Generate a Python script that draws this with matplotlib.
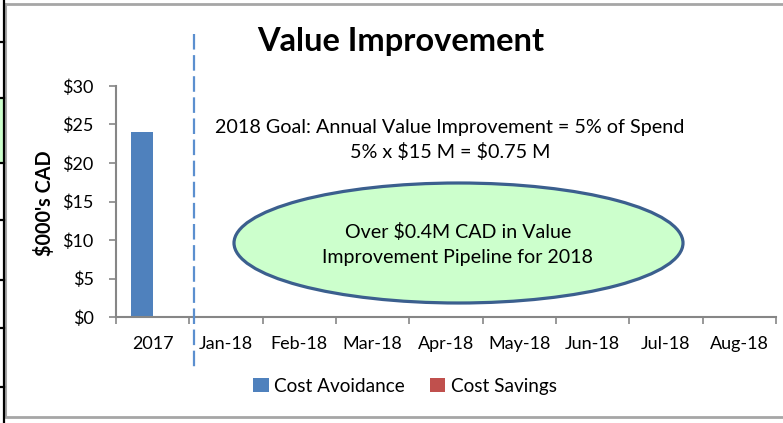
import matplotlib
matplotlib.use("Agg")
import matplotlib.pyplot as plt
from matplotlib.patches import Ellipse, Rectangle
from matplotlib.lines import Line2D
import numpy as np

categories = ['2017', 'Jan-18', 'Feb-18', 'Mar-18', 'Apr-18', 'May-18', 'Jun-18', 'Jul-18', 'Aug-18']
cost_avoidance = [24, 0, 0, 0, 0, 0, 0, 0, 0]
cost_savings = [0, 0, 0, 0, 0, 0, 0, 0, 0]
y_ticks = [0, 5, 10, 15, 20, 25, 30]
y_tick_labels = [r'\$0', r'\$5', r'\$10', r'\$15', r'\$20', r'\$25', r'\$30']

plt.rcParams['font.family'] = ['Lato', 'DejaVu Sans']

W, H = 783, 423
fig = plt.figure(figsize=(W / 100, H / 100), dpi=100)

def fx(px):
    return px / W

def fy(py):
    return 1 - py / H

ax = fig.add_axes([fx(116), fy(317), fx(776) - fx(116), fy(86) - fy(317)])

x = np.arange(len(categories))
bw = 0.3
ax.bar(x - bw / 2, cost_avoidance, bw, color='#4F81BD', label='Cost Avoidance')
ax.bar(x + bw / 2, cost_savings, bw, color='#C0504D', label='Cost Savings')

ax.set_xlim(-0.5, len(categories) - 0.5)
ax.set_ylim(0, 30)
ax.set_yticks(y_ticks)
ax.set_yticklabels(y_tick_labels)
ax.set_xticks(x)
ax.set_xticklabels(categories)
ax.set_xticks(np.arange(len(categories) + 1) - 0.5, minor=True)

axis_col = '#868686'
for s in ['top', 'right']:
    ax.spines[s].set_visible(False)
for s in ['left', 'bottom']:
    ax.spines[s].set_color(axis_col)
    ax.spines[s].set_linewidth(1.5)

ax.tick_params(axis='x', which='major', length=0, pad=14, labelsize=13, colors='black')
ax.tick_params(axis='x', which='minor', length=5, width=1.2, color=axis_col, direction='out')
ax.tick_params(axis='y', which='major', length=5, width=1.2, color=axis_col, pad=11,
               labelsize=13, labelcolor='black', direction='out')

# title and axis label
fig.text(fx(401), fy(42), 'Value Improvement', ha='center', va='center',
         fontsize=23.5, fontweight='bold')
fig.text(fx(45), fy(203), r"\$000's CAD", ha='center', va='center', rotation=90,
         fontsize=14.3, fontweight='bold')

# goal annotation
fig.text(fx(450), fy(127), '2018 Goal: Annual Value Improvement = 5% of Spend',
         ha='center', va='center', fontsize=14.2)
fig.text(fx(450), fy(152), r'5% x \$15 M = \$0.75 M', ha='center', va='center', fontsize=14.2)

# ellipse callout
ell = Ellipse((fx(458.5), fy(243)), fx(449), 120 / H, transform=fig.transFigure,
              facecolor='#CCFFCC', edgecolor='#3B5F8E', linewidth=2.3, zorder=5)
fig.add_artist(ell)
fig.text(fx(458), fy(232), r'Over \$0.4M CAD in Value', ha='center', va='center',
         fontsize=14.1, zorder=6)
fig.text(fx(458), fy(257), 'Improvement Pipeline for 2018', ha='center', va='center',
         fontsize=14.1, zorder=6)

# dashed separator
fig.add_artist(Line2D([fx(193.5), fx(193.5)], [fy(34), fy(367)], transform=fig.transFigure,
                      color='#5B8FCF', linewidth=1.6, dashes=(7, 2.5)))

# legend
handles, labels = ax.get_legend_handles_labels()
leg = fig.legend(handles, labels, loc='center', bbox_to_anchor=(fx(405), fy(386)),
                 ncol=2, frameon=False, fontsize=13.7, handlelength=0.8, handleheight=0.8,
                 handletextpad=0.3, columnspacing=1.3)

# outer chart border and spreadsheet remnants
border = '#A6A6A6'
fig.add_artist(Line2D([fx(5.5), 1], [fy(4.5), fy(4.5)], transform=fig.transFigure,
                      color=border, linewidth=2))
fig.add_artist(Line2D([fx(5.5), 1], [fy(416.5), fy(416.5)], transform=fig.transFigure,
                      color=border, linewidth=2))
fig.add_artist(Line2D([fx(5.5), fx(5.5)], [fy(4.5), fy(416.5)], transform=fig.transFigure,
                      color=border, linewidth=1.5))
fig.add_artist(Rectangle((0, fy(163)), fx(3), (163 - 98) / H, transform=fig.transFigure,
                         facecolor='#CCFFCC', edgecolor='none'))
fig.add_artist(Line2D([fx(3.5), fx(3.5)], [0, 1], transform=fig.transFigure,
                      color='black', linewidth=1.6))
for yy in [42, 98, 163, 220, 280, 328, 387]:
    fig.add_artist(Line2D([0, fx(3.5)], [fy(yy), fy(yy)], transform=fig.transFigure,
                          color='black', linewidth=1.6))

fig.savefig('out.png', dpi=100)
